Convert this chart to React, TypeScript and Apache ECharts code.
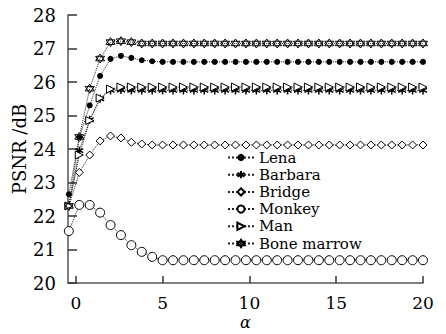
import React, { useEffect, useRef } from "react";
import * as echarts from "echarts";

const alpha = [-0.4, 0.2, 0.8, 1.4, 2.0, 2.6, 3.2, 3.8, 4.4, 5.0, 5.6, 6.2, 6.8, 7.4, 8.0, 8.6, 9.2, 9.8, 10.4, 11.0, 11.6, 12.2, 12.8, 13.4, 14.0, 14.6, 15.2, 15.8, 16.4, 17.0, 17.6, 18.2, 18.8, 19.4, 20.0];

const lena = [22.65, 24.33, 25.3, 26.18, 26.69, 26.78, 26.72, 26.65, 26.62, 26.6, 26.6, 26.6, 26.6, 26.6, 26.6, 26.6, 26.6, 26.6, 26.6, 26.6, 26.6, 26.6, 26.6, 26.6, 26.6, 26.6, 26.6, 26.6, 26.6, 26.6, 26.6, 26.6, 26.6, 26.6, 26.6];
const barbara = [22.3, 23.95, 24.87, 25.5, 25.75, 25.76, 25.75, 25.75, 25.75, 25.75, 25.75, 25.75, 25.75, 25.75, 25.75, 25.75, 25.75, 25.75, 25.75, 25.75, 25.75, 25.75, 25.75, 25.75, 25.75, 25.75, 25.75, 25.75, 25.75, 25.75, 25.75, 25.75, 25.75, 25.75, 25.75];
const bridge = [22.3, 23.3, 23.82, 24.24, 24.39, 24.33, 24.2, 24.15, 24.12, 24.12, 24.12, 24.12, 24.12, 24.12, 24.12, 24.12, 24.12, 24.12, 24.12, 24.12, 24.12, 24.12, 24.12, 24.12, 24.12, 24.12, 24.12, 24.12, 24.12, 24.12, 24.12, 24.12, 24.12, 24.12, 24.12];
const monkey = [21.55, 22.33, 22.33, 22.1, 21.73, 21.43, 21.13, 20.93, 20.78, 20.68, 20.68, 20.68, 20.68, 20.68, 20.68, 20.68, 20.68, 20.68, 20.68, 20.68, 20.68, 20.68, 20.68, 20.68, 20.68, 20.68, 20.68, 20.68, 20.68, 20.68, 20.68, 20.68, 20.68, 20.68, 20.68];
const man = [22.3, 23.82, 24.85, 25.52, 25.79, 25.85, 25.85, 25.85, 25.85, 25.85, 25.85, 25.85, 25.85, 25.85, 25.85, 25.85, 25.85, 25.85, 25.85, 25.85, 25.85, 25.85, 25.85, 25.85, 25.85, 25.85, 25.85, 25.85, 25.85, 25.85, 25.85, 25.85, 25.85, 25.85, 25.85];
const boneMarrow = [22.3, 24.36, 25.8, 26.7, 27.19, 27.22, 27.19, 27.15, 27.15, 27.15, 27.15, 27.15, 27.15, 27.15, 27.15, 27.15, 27.15, 27.15, 27.15, 27.15, 27.15, 27.15, 27.15, 27.15, 27.15, 27.15, 27.15, 27.15, 27.15, 27.15, 27.15, 27.15, 27.15, 27.15, 27.15];

const seriesNames = ["Lena", "Barbara", "Bridge", "Monkey", "Man", "Bone marrow"];
const xTicks = [0, 5, 10, 15, 20];

const FONT = "DejaVu Serif";

const ASTERISK = "path://M5,0 L5,10 M0.67,2.5 L9.33,7.5 M0.67,7.5 L9.33,2.5";
const TRI_RIGHT = "path://M0,0 L10,5 L0,10 Z";
const HEXAGRAM = "path://M5,0 L9.33,7.5 L0.67,7.5 Z M5,10 L9.33,2.5 L0.67,2.5 Z";

export default function App() {
  const ref = useRef<HTMLDivElement>(null);
  useEffect(() => {
    if (!ref.current) return;
    const chart = echarts.init(ref.current, null, { renderer: "svg" });
    const toPairs = (vals: number[]) => alpha.map((a, i) => [a, vals[i]]);
    const line = { type: "dotted" as const, width: 1, color: "#222" };
    const mk = (name: string, vals: number[], symbol: string, size: number, itemStyle: any) => ({
      name,
      type: "line",
      data: toPairs(vals),
      symbol,
      symbolSize: size,
      showAllSymbol: true,
      lineStyle: line,
      itemStyle,
    });
    const hollow = { color: "#fff", borderColor: "#000", borderWidth: 1 };
    const legends = seriesNames.map((n, i) => ({
      orient: "vertical",
      left: 222,
      top: 145 + i * 17.2,
      itemWidth: 26,
      itemHeight: 9,
      itemGap: 0,
      data: [n],
      textStyle: { fontFamily: FONT, fontSize: 15, color: "#000" },
    }));
    chart.setOption({
      animation: false,
      backgroundColor: "#fff",
      grid: { left: 68, right: 23, top: 15, bottom: 51, outerBoundsMode: "none", containLabel: false },
      legend: legends,
      xAxis: {
        type: "value",
        min: -0.45,
        max: 20,
        name: "α",
        nameLocation: "middle",
        nameGap: 31,
        nameMoveOverlap: false,
        nameTextStyle: { fontFamily: FONT, fontSize: 16, fontStyle: "italic", color: "#000" },
        axisLine: { show: true, onZero: false, lineStyle: { color: "#555", width: 1.5 } },
        axisTick: { show: true, inside: true, length: 7, customValues: xTicks, lineStyle: { color: "#333", width: 1.5 } },
        axisLabel: { customValues: xTicks, fontFamily: FONT, fontSize: 17, color: "#000", margin: 11 },
        splitLine: { show: false },
      },
      yAxis: {
        type: "value",
        min: 20,
        max: 28,
        interval: 1,
        name: "PSNR /dB",
        nameLocation: "middle",
        nameGap: 40,
        nameMoveOverlap: false,
        nameTextStyle: { fontFamily: FONT, fontSize: 18, color: "#000" },
        axisLine: { show: true, onZero: false, lineStyle: { color: "#555", width: 1.5 } },
        axisTick: { show: true, inside: true, length: 9, lineStyle: { color: "#333", width: 1.5 } },
        axisLabel: { fontFamily: FONT, fontSize: 18, color: "#000", margin: 12 },
        splitLine: { show: false },
      },
      series: [
        mk("Lena", lena, "circle", 6, { color: "#000" }),
        mk("Barbara", barbara, ASTERISK, 8, { color: "none", borderColor: "#000", borderWidth: 1.5 }),
        mk("Bridge", bridge, "diamond", 8, hollow),
        mk("Monkey", monkey, "circle", 9, hollow),
        mk("Man", man, TRI_RIGHT, 8, hollow),
        mk("Bone marrow", boneMarrow, HEXAGRAM, 9, hollow),
      ],
    });
    return () => chart.dispose();
  }, []);
  return <div ref={ref} style={{ position: "absolute", left: 0, top: 0, width: 446, height: 334 }} />;
}
